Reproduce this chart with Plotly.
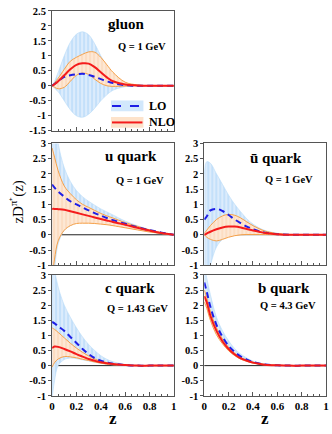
import plotly.graph_objects as go

# z grid shared by all panels
z = [0, 0.02, 0.05, 0.1, 0.15, 0.2, 0.25, 0.3, 0.35, 0.4, 0.45, 0.5, 0.6, 0.7, 0.8, 0.9, 1.0]

# gluon, Q = 1 GeV
gluon_lo = [0, 0.06, 0.15, 0.3, 0.35, 0.38, 0.4, 0.36, 0.3, 0.22, 0.15, 0.09, 0.02, 0, 0, 0, 0]
gluon_lo_hi = [0, 0.15, 0.45, 1.0, 1.45, 1.72, 1.8, 1.7, 1.4, 1.0, 0.65, 0.38, 0.1, 0.02, 0, 0, 0]
gluon_lo_lo = [0, -0.08, -0.2, -0.5, -0.8, -1.0, -1.05, -0.95, -0.75, -0.5, -0.3, -0.15, -0.03, 0, 0, 0, 0]
gluon_nlo = [0, 0.05, 0.15, 0.35, 0.55, 0.7, 0.75, 0.74, 0.62, 0.45, 0.28, 0.15, 0.04, 0.01, 0, 0, 0]
gluon_nlo_hi = [0, 0.1, 0.25, 0.55, 0.82, 0.95, 1.05, 1.13, 1.12, 0.95, 0.7, 0.45, 0.12, 0.03, 0, 0, 0]
gluon_nlo_lo = [0, -0.05, -0.1, -0.05, 0.15, 0.35, 0.42, 0.38, 0.22, 0.08, 0.0, -0.02, -0.01, 0, 0, 0, 0]

# u quark, Q = 1 GeV
u_lo = [1.65, 1.55, 1.42, 1.25, 1.1, 1.0, 0.9, 0.8, 0.71, 0.63, 0.55, 0.48, 0.36, 0.25, 0.15, 0.07, 0]
u_lo_hi = [5, 4, 3.0, 2.2, 1.75, 1.45, 1.25, 1.1, 0.97, 0.85, 0.75, 0.65, 0.45, 0.3, 0.17, 0.07, 0]
u_lo_lo = [-3, -1.2, -0.3, 0.15, 0.3, 0.4, 0.43, 0.45, 0.44, 0.42, 0.38, 0.35, 0.27, 0.18, 0.1, 0.04, 0]
u_nlo = [0.85, 0.85, 0.84, 0.82, 0.77, 0.72, 0.67, 0.62, 0.57, 0.52, 0.47, 0.42, 0.33, 0.23, 0.14, 0.06, 0]
u_nlo_hi = [2.85, 2.55, 2.1, 1.6, 1.35, 1.15, 1.0, 0.9, 0.8, 0.7, 0.62, 0.55, 0.4, 0.28, 0.16, 0.07, 0]
u_nlo_lo = [-1.5, -0.8, -0.2, 0.15, 0.3, 0.37, 0.38, 0.38, 0.37, 0.35, 0.33, 0.3, 0.23, 0.16, 0.09, 0.04, 0]

# ubar quark, Q = 1 GeV
ubar_lo = [0.5, 0.6, 0.8, 0.85, 0.78, 0.65, 0.5, 0.38, 0.27, 0.18, 0.12, 0.07, 0.02, 0, 0, 0, 0]
ubar_lo_hi = [2.0, 2.4, 2.35, 2.0, 1.65, 1.3, 1.0, 0.75, 0.52, 0.35, 0.23, 0.14, 0.05, 0.01, 0, 0, 0]
ubar_lo_lo = [-1.6, -1.4, -1.0, -0.4, -0.15, -0.03, 0.01, 0.02, 0.02, 0.02, 0.01, 0.01, 0, 0, 0, 0, 0]
ubar_nlo = [0, 0.04, 0.1, 0.18, 0.24, 0.27, 0.27, 0.24, 0.19, 0.14, 0.1, 0.06, 0.02, 0, 0, 0, 0]
ubar_nlo_hi = [0.05, 0.15, 0.3, 0.5, 0.62, 0.67, 0.64, 0.55, 0.42, 0.3, 0.2, 0.12, 0.04, 0.01, 0, 0, 0]
ubar_nlo_lo = [0, -0.08, -0.15, -0.2, -0.15, -0.08, -0.03, 0, 0.01, 0.01, 0.01, 0.01, 0, 0, 0, 0, 0]

# c quark, Q = 1.43 GeV
c_lo = [1.45, 1.4, 1.3, 1.15, 0.95, 0.75, 0.55, 0.38, 0.25, 0.16, 0.1, 0.06, 0.02, 0, 0, 0, 0]
c_lo_hi = [4.0, 3.2, 2.6, 2.0, 1.6, 1.25, 0.95, 0.7, 0.5, 0.33, 0.21, 0.13, 0.04, 0.01, 0, 0, 0]
c_lo_lo = [-1.1, -0.5, 0.0, 0.2, 0.25, 0.23, 0.19, 0.15, 0.11, 0.08, 0.05, 0.03, 0.01, 0, 0, 0, 0]
c_nlo = [0.58, 0.63, 0.62, 0.55, 0.47, 0.38, 0.3, 0.22, 0.16, 0.11, 0.08, 0.05, 0.02, 0, 0, 0, 0]
c_nlo_hi = [1.25, 1.2, 1.1, 0.92, 0.74, 0.58, 0.44, 0.32, 0.22, 0.15, 0.1, 0.06, 0.02, 0, 0, 0, 0]
c_nlo_lo = [-0.05, 0.1, 0.22, 0.3, 0.29, 0.26, 0.21, 0.17, 0.12, 0.08, 0.05, 0.03, 0.01, 0, 0, 0, 0]

# b quark, Q = 4.3 GeV
b_lo = [2.75, 2.45, 1.95, 1.35, 0.95, 0.65, 0.45, 0.3, 0.2, 0.12, 0.07, 0.04, 0.01, 0, 0, 0, 0]
b_lo_hi = [3.3, 2.9, 2.35, 1.6, 1.15, 0.82, 0.56, 0.38, 0.25, 0.15, 0.09, 0.05, 0.015, 0, 0, 0, 0]
b_lo_lo = [2.4, 2.1, 1.6, 1.1, 0.75, 0.5, 0.34, 0.22, 0.14, 0.09, 0.05, 0.03, 0.01, 0, 0, 0, 0]
b_nlo = [2.3, 2.1, 1.65, 1.15, 0.8, 0.55, 0.37, 0.24, 0.16, 0.1, 0.06, 0.03, 0.01, 0, 0, 0, 0]
b_nlo_hi = [2.5, 2.25, 1.8, 1.25, 0.88, 0.6, 0.41, 0.27, 0.18, 0.11, 0.07, 0.035, 0.01, 0, 0, 0, 0]
b_nlo_lo = [2.1, 1.9, 1.5, 1.02, 0.72, 0.49, 0.33, 0.21, 0.14, 0.08, 0.05, 0.025, 0.01, 0, 0, 0, 0]

panel_names = ["gluon", "u quark", "ū quark", "c quark", "b quark"]
panel_scales = ["Q = 1 GeV", "Q = 1 GeV", "Q = 1 GeV", "Q = 1.43 GeV", "Q = 4.3 GeV"]

x_ticks = [0, 0.2, 0.4, 0.6, 0.8, 1]
x_ticktext = ["0", "0.2", "0.4", "0.6", "0.8", "1"]
y_ticks_g = [-1.5, -1, -0.5, 0, 0.5, 1, 1.5, 2, 2.5]
y_ticktext_g = ["-1.5", "-1", "-0.5", "0", "0.5", "1", "1.5", "2", "2.5"]
y_ticks_q = [-1, -0.5, 0, 0.5, 1, 1.5, 2, 2.5, 3]
y_ticktext_q = ["-1", "-0.5", "0", "0.5", "1", "1.5", "2", "2.5", "3"]

panels = [
    (gluon_lo, gluon_lo_hi, gluon_lo_lo, gluon_nlo, gluon_nlo_hi, gluon_nlo_lo),
    (u_lo, u_lo_hi, u_lo_lo, u_nlo, u_nlo_hi, u_nlo_lo),
    (ubar_lo, ubar_lo_hi, ubar_lo_lo, ubar_nlo, ubar_nlo_hi, ubar_nlo_lo),
    (c_lo, c_lo_hi, c_lo_lo, c_nlo, c_nlo_hi, c_nlo_lo),
    (b_lo, b_lo_hi, b_lo_lo, b_nlo, b_nlo_hi, b_nlo_lo),
]

W, H = 332, 434
# pixel boxes (left, right, top, bottom)
boxes = [(50, 174, 6, 129), (50, 174, 142, 267), (205, 329, 142, 267),
         (50, 174, 277, 401), (205, 329, 277, 401)]

SERIF = "Liberation Serif"
BLUE_LINE = "#1e1ee6"
RED_LINE = "#f41c1c"
ORANGE = "#f5a048"

fig = go.Figure()
layout = {}
for i, (lo, lo_hi, lo_lo, nlo, nlo_hi, nlo_lo) in enumerate(panels):
    n = "" if i == 0 else str(i + 1)
    xa, ya = "x" + n, "y" + n
    # LO band
    fig.add_trace(go.Scatter(x=z, y=lo_lo, xaxis=xa, yaxis=ya, mode="lines",
                             line=dict(color="#b8dbf8", width=0.6, shape="spline"),
                             showlegend=False, hoverinfo="skip"))
    fig.add_trace(go.Scatter(x=z, y=lo_hi, xaxis=xa, yaxis=ya, mode="lines",
                             line=dict(color="#b8dbf8", width=0.6, shape="spline"),
                             fill="tonexty", fillcolor="#c4e0fa",
                             fillpattern=dict(shape="|", bgcolor="#c4e0fa", fgcolor="#ffffff",
                                              size=4, solidity=0.4),
                             showlegend=False, hoverinfo="skip"))
    # NLO band
    fig.add_trace(go.Scatter(x=z, y=nlo_lo, xaxis=xa, yaxis=ya, mode="lines",
                             line=dict(color=ORANGE, width=1, shape="spline"),
                             showlegend=False, hoverinfo="skip"))
    fig.add_trace(go.Scatter(x=z, y=nlo_hi, xaxis=xa, yaxis=ya, mode="lines",
                             line=dict(color=ORANGE, width=1, shape="spline"),
                             fill="tonexty", fillcolor="#fde3cb",
                             fillpattern=dict(shape="|", bgcolor="#fde8d5", fgcolor="#f6c294",
                                              size=4, solidity=0.3),
                             showlegend=False, hoverinfo="skip"))
    # central curves
    fig.add_trace(go.Scatter(x=z, y=lo, xaxis=xa, yaxis=ya, mode="lines",
                             line=dict(color=BLUE_LINE, width=2, dash="6px,4px", shape="spline"),
                             showlegend=False))
    fig.add_trace(go.Scatter(x=z, y=nlo, xaxis=xa, yaxis=ya, mode="lines",
                             line=dict(color=RED_LINE, width=2, shape="spline"),
                             showlegend=False))

    l, r, t, b = boxes[i]
    bottom_row = i >= 3
    layout["xaxis" + n] = dict(
        domain=[l / W, r / W], anchor=ya, range=[0, 1],
        showline=True, linecolor="#555555", linewidth=1, mirror=True,
        showgrid=False, zeroline=False,
        tickvals=x_ticks, ticktext=x_ticktext, ticks="inside", ticklen=4,
        tickcolor="#555555", showticklabels=bottom_row,
        minor=dict(dtick=0.05, ticks="inside", ticklen=2, tickcolor="#555555"),
        tickfont=dict(family=SERIF, size=11, color="black", weight="bold"),
    )
    if i == 0:
        yr, yt, ytt = [-1.5, 2.5], y_ticks_g, y_ticktext_g
    else:
        yr, yt, ytt = [-1, 3], y_ticks_q, y_ticktext_q
    layout["yaxis" + n] = dict(
        domain=[1 - b / H, 1 - t / H], anchor=xa, range=yr,
        showline=True, linecolor="#555555", linewidth=1, mirror=True,
        showgrid=False, zeroline=False,
        tickvals=yt, ticktext=ytt, ticks="outside", ticklen=3, tickcolor="#555555",
        tickfont=dict(family=SERIF, size=10.5, color="black", weight="bold"),
    )

fig.update_layout(**layout)

shapes = []
annotations = []
for i in range(5):
    n = "" if i == 0 else str(i + 1)
    # zero line
    shapes.append(dict(type="line", xref="x" + n + " domain", yref="y" + n,
                       x0=0, x1=1, y0=0, y1=0, layer="below",
                       line=dict(color="#777777" if i in (0, 2) else "#222222",
                                 width=1, dash="dot" if i == 0 else "solid")))

label_pos = [(126, 20), (130, 155), (278, 157), (129, 290), (286, 290)]
scale_pos = [(142, 43), (140, 180), (291, 179), (137, 311), (290, 308)]
for i in range(5):
    annotations.append(dict(text=panel_names[i], xref="paper", yref="paper",
                            x=label_pos[i][0] / W, y=1 - label_pos[i][1] / H,
                            showarrow=False, xanchor="center", yanchor="middle",
                            font=dict(family=SERIF, size=15, color="black", weight="bold")))
    annotations.append(dict(text=panel_scales[i], xref="paper", yref="paper",
                            x=scale_pos[i][0] / W, y=1 - scale_pos[i][1] / H,
                            showarrow=False, xanchor="center", yanchor="middle",
                            font=dict(family=SERIF, size=10.5, color="black", weight="bold")))

# x-axis titles under the bottom row
for i in (3, 4):
    l, r, t, b = boxes[i]
    annotations.append(dict(text="z", xref="paper", yref="paper",
                            x=(l + r) / 2 / W, y=1 - 424 / H, showarrow=False,
                            xanchor="center", yanchor="middle",
                            font=dict(family=SERIF, size=17, color="black", weight="bold")))

# y-axis title
annotations.append(dict(text="zD<sup>π⁺</sup>(z)", xref="paper", yref="paper",
                        x=15 / W, y=1 - 202 / H, textangle=-90, showarrow=False,
                        xanchor="center", yanchor="middle",
                        font=dict(family=SERIF, size=15, color="black")))

# legend drawn in the gluon panel
leg = [("LO", "#d2e8fc", BLUE_LINE, "dash", 98, 109), ("NLO", "#fde3cb", RED_LINE, "solid", 115, 126)]
for name, patch, col, dash, y0, y1 in leg:
    shapes.append(dict(type="rect", xref="paper", yref="paper",
                       x0=110 / W, x1=143 / W, y0=1 - y1 / H, y1=1 - y0 / H,
                       fillcolor=patch, line=dict(width=0)))
    ym = 1 - (y0 + y1) / 2 / H
    shapes.append(dict(type="line", xref="paper", yref="paper",
                       x0=111 / W, x1=142 / W, y0=ym, y1=ym,
                       line=dict(color=col, width=2, dash=dash)))
    annotations.append(dict(text=name, xref="paper", yref="paper",
                            x=147 / W, y=ym, showarrow=False,
                            xanchor="left", yanchor="middle",
                            font=dict(family=SERIF, size=12, color="black", weight="bold")))

fig.update_layout(
    width=W, height=H, autosize=False,
    margin=dict(l=0, r=0, t=0, b=0),
    paper_bgcolor="white", plot_bgcolor="white",
    showlegend=False,
    shapes=shapes, annotations=annotations,
)

# the page body has a default 8px margin; remove it so the figure fills the window
fig.write_html("out.html", config={"displayModeBar": False},
               post_script="document.body.style.margin = '0';")
